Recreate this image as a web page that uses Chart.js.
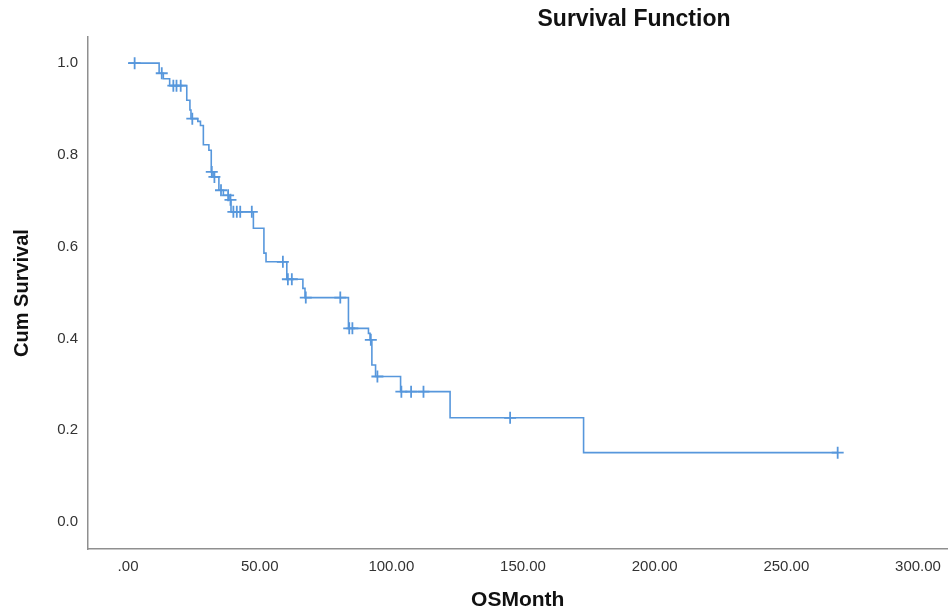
<!DOCTYPE html>
<html>
<head>
<meta charset="utf-8">
<script src="https://cdn.jsdelivr.net/npm/chart.js@4/dist/chart.umd.min.js"></script>
<style>
    html, body { margin: 0; padding: 0; background: #fff; }
    #wrap { width: 948px; height: 613px; }
</style>
</head>
<body>
<div id="wrap"><canvas id="km-chart"></canvas></div>
<script>
// --- DATA ---
// step points of the Kaplan-Meier curve (time, survival after the step)
const stepTimes = [0, 11.8, 13.4, 15.8, 22.3, 23.5, 23.9, 26.5, 27.5, 28.6, 30.7, 31.6, 32.3, 34.5, 36.2, 38.7, 39.1, 47.6, 51.6, 52.4, 60.3, 66.4, 67.2, 83.7, 91.3, 91.9, 92.6, 94.0, 103.5, 122.3, 173.0, 269.5];
const stepSurv = [1.0, 0.978, 0.966, 0.951, 0.919, 0.898, 0.879, 0.873, 0.864, 0.822, 0.810, 0.763, 0.752, 0.723, 0.712, 0.702, 0.676, 0.640, 0.586, 0.567, 0.529, 0.509, 0.489, 0.422, 0.411, 0.397, 0.342, 0.317, 0.284, 0.227, 0.151, 0.151];

// censored cases
const censorTimes = [2.5, 12.8, 17.2, 18.4, 20.0, 24.4, 31.8, 32.8, 35.3, 38.0, 38.9, 40.0, 41.3, 42.6, 47.0, 58.8, 60.7, 62.2, 67.5, 80.6, 84.0, 85.2, 92.2, 94.7, 103.8, 107.5, 112.2, 145.1, 269.5];
const censorSurv = [1.0, 0.978, 0.951, 0.951, 0.951, 0.879, 0.763, 0.752, 0.723, 0.712, 0.702, 0.676, 0.676, 0.676, 0.676, 0.567, 0.529, 0.529, 0.489, 0.489, 0.422, 0.422, 0.397, 0.317, 0.284, 0.284, 0.284, 0.227, 0.151];

const xTickValues = [0, 50, 100, 150, 200, 250, 300];
const xTickLabels = ['.00', '50.00', '100.00', '150.00', '200.00', '250.00', '300.00'];
const yTickValues = [0, 0.2, 0.4, 0.6, 0.8, 1.0];
const yTickLabels = ['0.0', '0.2', '0.4', '0.6', '0.8', '1.0'];

// --- CONFIG ---
const LINE_COLOR = '#5797dc';
const AXIS_COLOR = '#8f8f8f';
const FONT = '"Liberation Sans", Arial, sans-serif';

const titlePlugin = {
    id: 'spssTitle',
    afterDraw(chart) {
        const ctx = chart.ctx;
        ctx.save();
        ctx.font = `bold 23px ${FONT}`;
        ctx.fillStyle = '#111';
        ctx.textAlign = 'center';
        ctx.textBaseline = 'middle';
        ctx.fillText('Survival Function', 634, 20);
        ctx.restore();
    }
};

function renderChart() {
    const ctx = document.getElementById('km-chart').getContext('2d');

    new Chart(ctx, {
        type: 'scatter',
        data: {
            datasets: [
                {
                    type: 'line',
                    data: stepTimes.map((t, i) => ({ x: t, y: stepSurv[i] })),
                    stepped: true,
                    borderColor: LINE_COLOR,
                    borderWidth: 1.6,
                    pointRadius: 0,
                    fill: false,
                },
                {
                    data: censorTimes.map((t, i) => ({ x: t, y: censorSurv[i] })),
                    pointStyle: 'cross',
                    pointRadius: 6,
                    borderColor: LINE_COLOR,
                    borderWidth: 1.8,
                    backgroundColor: LINE_COLOR,
                }
            ]
        },
        options: {
            responsive: true,
            maintainAspectRatio: false,
            animation: false,
            layout: { autoPadding: false, padding: { top: 37, left: 0, right: 0, bottom: 0 } },
            plugins: {
                legend: { display: false },
                tooltip: { enabled: false },
            },
            scales: {
                x: {
                    type: 'linear',
                    min: -15.4,
                    max: 311.4,
                    afterBuildTicks: (scale) => { scale.ticks = xTickValues.map(v => ({ value: v })); },
                    afterFit: (scale) => {
                        scale.height = 64;
                        scale.paddingLeft = 0;
                        scale.paddingRight = 0;
                    },
                    grid: { display: false, drawTicks: false },
                    border: { display: true, color: AXIS_COLOR, width: 1.5 },
                    ticks: {
                        padding: 9,
                        color: '#333',
                        font: { family: FONT, size: 15 },
                        maxRotation: 0,
                        callback: (value) => xTickLabels[xTickValues.indexOf(value)],
                    },
                    title: {
                        display: true,
                        text: 'OSMonth',
                        color: '#111',
                        font: { family: FONT, size: 21, weight: 'bold' },
                        padding: { top: 0, bottom: 0 },
                    }
                },
                y: {
                    type: 'linear',
                    min: -0.059,
                    max: 1.057,
                    afterBuildTicks: (scale) => { scale.ticks = yTickValues.map(v => ({ value: v })); },
                    afterFit: (scale) => {
                        scale.width = 87.5;
                        scale.paddingTop = 0;
                        scale.paddingBottom = 0;
                    },
                    grid: { display: false, drawTicks: false },
                    border: { display: true, color: AXIS_COLOR, width: 1.5 },
                    ticks: {
                        padding: 9.5,
                        color: '#333',
                        font: { family: FONT, size: 15 },
                        callback: (value) => yTickLabels[yTickValues.indexOf(value)],
                    },
                    title: {
                        display: true,
                        text: 'Cum Survival',
                        color: '#111',
                        font: { family: FONT, size: 20, weight: 'bold' },
                        padding: { top: 10, bottom: 0 },
                    }
                }
            }
        },
        plugins: [titlePlugin]
    });
}

renderChart();
</script>
</body>
</html>
